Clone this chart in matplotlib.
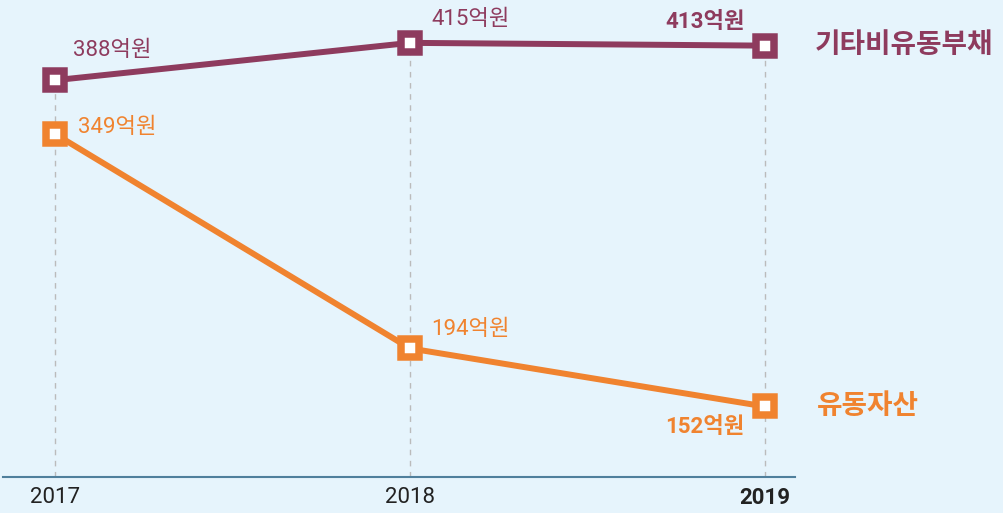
import matplotlib.pyplot as plt

years = [2017, 2018, 2019]
liab = [388, 415, 413]      # 기타비유동부채
assets = [349, 194, 152]    # 유동자산
liab_labels = ['388억원', '415억원', '413억원']
asset_labels = ['349억원', '194억원', '152억원']
tick_labels = ['2017', '2018', '2019']

purple = '#8E3B5E'
orange = '#F0832F'
bg = '#E6F4FC'

plt.rcParams['font.family'] = ['Roboto', 'Noto Sans CJK KR', 'DejaVu Sans']

fig = plt.figure(figsize=(10.04, 5.13), dpi=100, facecolor=bg)
ax = fig.add_axes([3 / 1004, 36 / 513, 792 / 1004, 477 / 513])
ax.set_facecolor(bg)
ax.set_xlim(2016.853, 2019.085)
ax.set_ylim(101, 446)

# dashed guides from axis up to the top series
ax.vlines(years, 101, liab, colors='#BBBBBB', linestyles=(0, (4, 4)), linewidth=1, zorder=1)

for vals, col in [(liab, purple), (assets, orange)]:
    ax.plot(years, vals, color=col, linewidth=4.3, marker='s', markersize=13.2,
            markeredgewidth=5.4, markeredgecolor=col, markerfacecolor='white', zorder=3)

# value labels
offs_l = [(18, 30, 'left', 'normal'), (21, 23, 'left', 'normal'), (-20, 24, 'right', 'bold')]
offs_a = [(23, 7, 'left', 'normal'), (21, 19, 'left', 'normal'), (-20, -21, 'right', 'bold')]
for vals, labs, offs, col in [(liab, liab_labels, offs_l, purple), (assets, asset_labels, offs_a, orange)]:
    for x, v, t, (dx, dy, ha, w) in zip(years, vals, labs, offs):
        ax.annotate(t, (x, v), xytext=(dx, dy), textcoords='offset pixels', ha=ha, va='center',
                    fontsize=16, color=col, fontweight=w)

# series names on the right
ax.annotate('기타비유동부채', (2019, liab[-1]), xytext=(50, 0), textcoords='offset pixels',
            ha='left', va='center', fontsize=20, color=purple, fontweight='bold', annotation_clip=False)
ax.annotate('유동자산', (2019, assets[-1]), xytext=(52, 0), textcoords='offset pixels',
            ha='left', va='center', fontsize=20, color=orange, fontweight='bold', annotation_clip=False)

for s in ['top', 'right', 'left']:
    ax.spines[s].set_visible(False)
ax.spines['bottom'].set_color('#4F7F9C')
ax.spines['bottom'].set_linewidth(1.5)
ax.set_yticks([])
ax.set_xticks(years)
ax.set_xticklabels(tick_labels, fontsize=16, color='#222222')
ax.tick_params(axis='x', length=0, pad=7)
ax.get_xticklabels()[2].set_fontweight('bold')

fig.savefig('out.png', dpi=100, facecolor=bg)
